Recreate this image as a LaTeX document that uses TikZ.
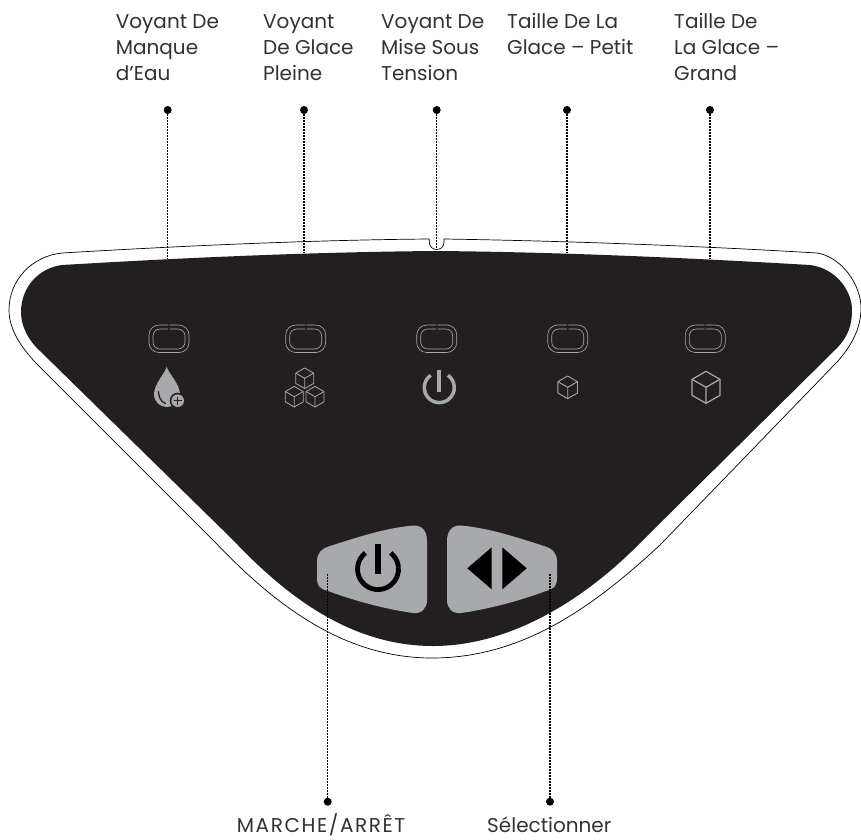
\documentclass[tikz,border=0pt]{standalone}
\usepackage{fontspec}
\setmainfont{Poppins}
\definecolor{panel}{HTML}{231F20}
\definecolor{ledg}{HTML}{A7A9AC}
\definecolor{ink}{HTML}{333132}
\tikzset{
  x=1pt,y=-1pt,
  lbl/.style={anchor=base west,align=left,inner sep=0pt,font=\fontsize{20pt}{26pt}\selectfont,text=ink},
  dotline/.style={line width=1.4pt,dash pattern=on 1.3pt off 1.7pt,black},
  dotend/.style={circle,fill=black,inner sep=0pt,minimum size=8pt},
  ledo/.style={draw=ledg,line width=.6pt},
  cubeline/.style={draw=ledg,line width=#1,line join=round},
  cubeline/.default=.7pt
}
\newcommand{\ledpair}[1]{%
  \draw[ledo,rounded corners=10pt] (#1-.7,325) -- (#1-20,325) -- (#1-20,352.5) -- (#1+20,352.5) -- (#1+20,325) -- (#1+.7,325);
  \draw[ledo,rounded corners=7pt] (#1+.8,329) -- (#1+16,329) -- (#1+16,349) -- (#1-16,349) -- (#1-16,329) -- (#1-.8,329);
}
\newcommand{\cubeicon}[4]{%
  \draw[cubeline=#4] (#1,#2-#3) -- (#1+.87*#3,#2-.5*#3) -- (#1+.87*#3,#2+.5*#3) -- (#1,#2+#3) -- (#1-.87*#3,#2+.5*#3) -- (#1-.87*#3,#2-.5*#3) -- cycle;
  \draw[cubeline=#4] (#1,#2) -- (#1,#2+#3) (#1,#2) -- (#1+.87*#3,#2-.5*#3) (#1,#2) -- (#1-.87*#3,#2-.5*#3);
}
\begin{document}
\begin{tikzpicture}
\useasboundingbox (0,0) rectangle (861,839);
% outer outline
\draw[black,line width=.7pt]
  (429.3,239) -- (429.3,242) .. controls (429.3,252) and (444,252) .. (444,242) -- (444,239)
  .. controls (570,241) and (700,246) .. (817,253)
  .. controls (842,257) and (861,285) .. (861,308)
  .. controls (861,330) and (850,347) .. (838,361)
  -- (660,545)
  .. controls (590,610) and (520,658) .. (432,658)
  .. controls (340,658) and (270,600) .. (213,540)
  -- (43,370)
  .. controls (22,350) and (9,330) .. (9,310)
  .. controls (9,280) and (32,256) .. (62,253)
  .. controls (180,246) and (310,240) .. (429.3,239);
% panel
\fill[panel]
  (436,251)
  .. controls (560,252) and (690,258) .. (810,265)
  .. controls (835,268) and (852,290) .. (852,310)
  .. controls (852,325) and (848,336) .. (838,347)
  -- (643,540)
  .. controls (585,600) and (510,646) .. (433,646)
  .. controls (350,646) and (285,595) .. (233,540)
  -- (40,351)
  .. controls (28,340) and (21,326) .. (21,312)
  .. controls (21,288) and (38,268) .. (62,265)
  .. controls (180,258) and (310,252) .. (436,251) -- cycle;
% LEDs
\ledpair{169}
\ledpair{305.7}
\ledpair{436.7}
\ledpair{567.7}
\ledpair{705.3}
% drop icon
\fill[ledg] (166.7,366.5) .. controls (167.5,372) and (180,384) .. (180,394)
  .. controls (180,402) and (174,407) .. (167,407)
  .. controls (160,407) and (154,402) .. (154,394)
  .. controls (154,384) and (166,372) .. (166.7,366.5) -- cycle;
\draw[panel,line width=1.3pt,line cap=round] (158.5,391.5) .. controls (158.5,397) and (161,402) .. (165.5,403.5);
\fill[panel] (177.7,400.7) circle[radius=8pt];
\fill[ledg] (177.7,400.7) circle[radius=6.3pt];
\draw[panel,line width=1.3pt] (173.7,400.7) -- (181.7,400.7) (177.7,396.7) -- (177.7,404.7);
% cubes
\cubeicon{304.7}{378.3}{10.3}{.8pt}
\cubeicon{294.3}{396.7}{10.3}{.8pt}
\cubeicon{315}{396.7}{10.3}{.8pt}
\cubeicon{567.7}{387.3}{11.3}{.9pt}
\cubeicon{706}{387.3}{16}{1.2pt}
% indicator power
\draw[ledg,line width=3.5pt] (430.7,375.3) arc[start angle=125,end angle=415,radius=15pt];
\fill[ledg] (437.3,370) rectangle (441.3,391.7);
% buttons
\fill[ledg] (427,541) .. controls (427,531) and (422,525) .. (413,525.5)
  .. controls (385,528) and (355,538) .. (330,546)
  .. controls (321,549) and (317,553) .. (317,562)
  -- (317,578) .. controls (317,586) and (320,589) .. (328,591)
  .. controls (355,601) and (385,609) .. (413,613)
  .. controls (422,614) and (427,608) .. (427,600) -- cycle;
\fill[ledg] (447,541) .. controls (447,531) and (452,525) .. (461,525.5)
  .. controls (489,528) and (519,538) .. (544,546)
  .. controls (553,549) and (557,553) .. (557,562)
  -- (557,578) .. controls (557,586) and (554,589) .. (546,591)
  .. controls (519,601) and (489,609) .. (461,613)
  .. controls (452,614) and (447,608) .. (447,600) -- cycle;
\draw[black,line width=4.8pt] (365.4,552.9) arc[start angle=128,end angle=412,radius=20.5pt];
\fill[black] (375,544) rectangle (381,574);
\fill[black] (467.3,568.3) -- (491.7,547.3) -- (491.7,589.3) -- cycle;
\fill[black] (526.7,568.3) -- (502.3,547.3) -- (502.3,589.3) -- cycle;
% connectors
\node[dotend] (d1) at (167.7,110) {};
\node[dotend] (d2) at (304,110) {};
\node[dotend] (d3) at (436.7,110) {};
\node[dotend] (d4) at (567,110) {};
\node[dotend] (d5) at (710,110) {};
\node[dotend] (d6) at (327.7,801.7) {};
\node[dotend] (d7) at (550,801.7) {};
\coordinate (e1) at (167.7,259);
\coordinate (e2) at (304,253);
\coordinate (e3) at (436.7,249);
\coordinate (e4) at (567,253);
\coordinate (e5) at (710,259);
\coordinate (e6) at (327.7,573);
\coordinate (e7) at (550,573);
\foreach \i in {1,...,7} \draw[dotline] (d\i) -- (e\i);
% labels
\node[lbl] (t1) at (115.7,80.3) {Voyant De\\Manque\\d’Eau};
\node[lbl] (t2) at (263,80.3) {Voyant\\De Glace\\Pleine};
\node[lbl] (t3) at (381,80.3) {Voyant De\\Mise Sous\\Tension};
\node[lbl] (t4) at (507,54.3) {Taille De La\\Glace – Petit};
\node[lbl] (t5) at (674,80.3) {Taille De\\La Glace –\\Grand};
\node[lbl] (b1) at (236.7,832.5) {\addfontfeatures{LetterSpace=8}MARCHE/ARRÊT};
\node[lbl] (b2) at (487,832.5) {Sélectionner};
\end{tikzpicture}
\end{document}
